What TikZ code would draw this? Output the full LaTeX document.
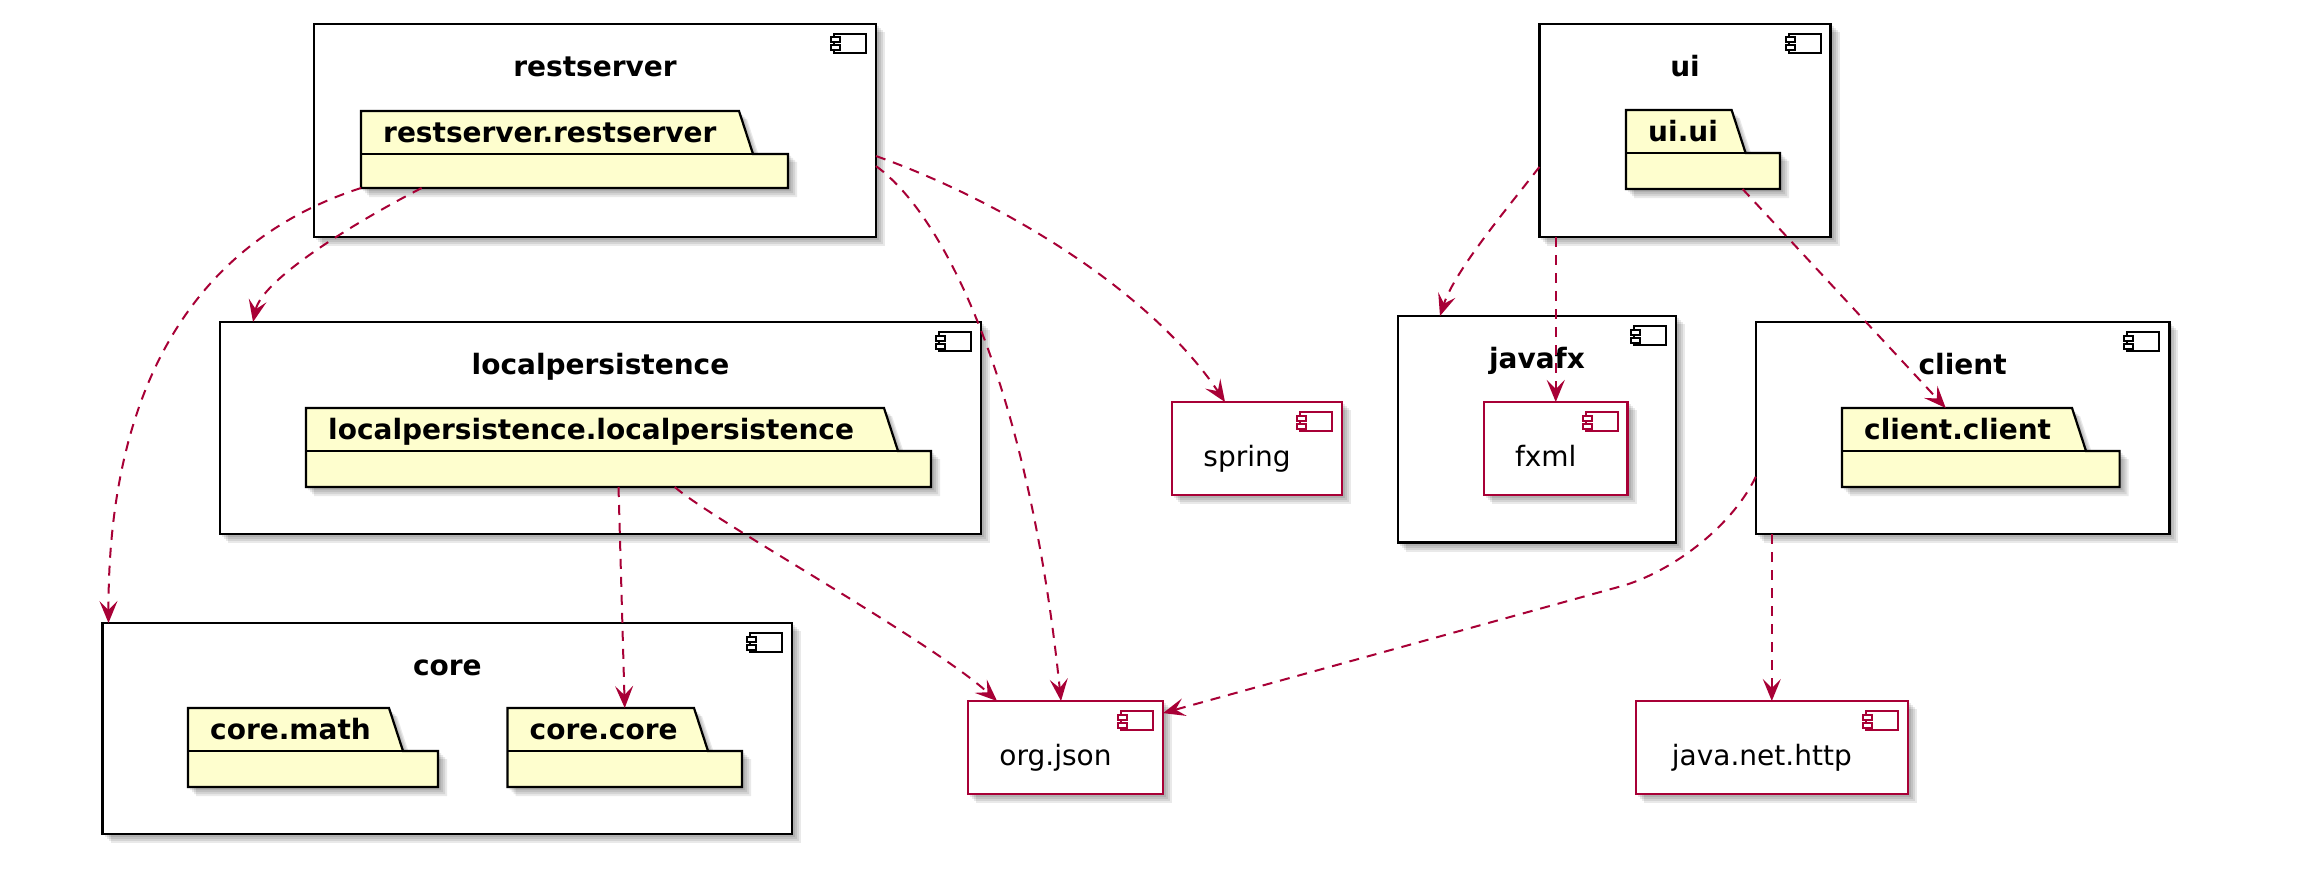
\documentclass[tikz,border=0pt]{standalone}
\usepackage{fontspec}
\setmainfont{DejaVu Sans}
\usetikzlibrary{arrows.meta,calc,fit}
\definecolor{arr}{HTML}{A80036}
\definecolor{pkgfill}{HTML}{FEFECE}
\tikzset{
  contframe/.style={draw=black, fill=white, line width=2.5pt, inner sep=0pt, outer sep=0pt},
  leafframe/.style={draw=arr, fill=white, line width=2.2pt, inner sep=0pt, outer sep=0pt},
  titletext/.style={font=\fontsize{28}{34}\selectfont\bfseries, inner sep=0pt, anchor=base},
  leaftext/.style={font=\fontsize{28}{34}\selectfont, inner sep=0pt, anchor=base},
  pkgline/.style={draw=black, line width=2.2pt, fill=pkgfill, line join=miter},
  dep/.style={draw=arr, line width=2pt, dash pattern=on 10pt off 8pt, -{Stealth[length=22pt,width=18pt,inset=9pt]}},
  shad/.style={fill=black, opacity=0.085},
}
% name, x1, y1, x2, y2, frame style, icon colour
\newcommand\compbox[7]{%
  \foreach \g in {0,2,4,6,8}{\fill[shad] (#2+\g,#3+\g) rectangle (#4+\g+1,#5+\g+1);}
  \node[#6, fit={(#2,#3)(#4,#5)}] (#1) {};
  \draw[draw=#7, line width=2pt, fill=white] (#4-42,#3+10) rectangle (#4-10,#3+29);
  \draw[draw=#7, line width=2pt, fill=white] (#4-45,#3+13.5) rectangle (#4-36,#3+18.5);
  \draw[draw=#7, line width=2pt, fill=white] (#4-45,#3+21.5) rectangle (#4-36,#3+26.5);
}
% name, left, tab top, tab right, body right, bottom, text
\newcommand\pkgbox[7]{%
  \foreach \g in {0,2,4,6,8}{\fill[shad] (#2+\g,#3+\g) -- (#4+\g,#3+\g) -- (#4+14+\g,#3+43+\g) -- (#5+\g+1,#3+43+\g) -- (#5+\g+1,#6+\g+1) -- (#2+\g,#6+\g+1) -- cycle;}
  \draw[pkgline] (#2,#3) -- (#4,#3) -- (#4+14,#3+43) -- (#5,#3+43) -- (#5,#6) -- (#2,#6) -- cycle;
  \draw[line width=2.2pt] (#2,#3+43) -- (#4+14,#3+43);
  \node[titletext, anchor=base west] (#1-t) at (#2+22,#3+31.5) {#7};
  \node[fit={(#2,#3)(#5,#6)}, inner sep=0pt, outer sep=0pt] (#1) {};
}
\begin{document}
\begin{tikzpicture}[x=1pt,y=-1pt]
\useasboundingbox[fill=white] (0,0) rectangle (2300,888);

% containers
\compbox{restserver}{314}{24}{876}{237}{contframe}{black}
\node[titletext] (restserver-t) at ($(restserver.north)+(0,52.5)$) {restserver};
\pkgbox{rspkg}{361}{111}{739}{788}{188}{restserver.restserver}

\compbox{lp}{220}{322}{981}{534}{contframe}{black}
\node[titletext] (lp-t) at ($(lp.north)+(0,52.5)$) {localpersistence};
\pkgbox{lppkg}{306}{408}{884}{931}{487}{localpersistence.localpersistence}

\compbox{core}{102.7}{623}{792}{834}{contframe}{black}
\node[titletext] (core-t) at ($(core.north)+(0,52.5)$) {core};
\pkgbox{cmpkg}{188}{708}{389}{438}{787}{core.math}
\pkgbox{ccpkg}{507.5}{708}{694}{742}{787}{core.core}

\compbox{ui}{1539.4}{24}{1830.6}{237}{contframe}{black}
\node[titletext] (ui-t) at ($(ui.north)+(0,52.5)$) {ui};
\pkgbox{uipkg}{1626}{110}{1731.6}{1780}{189}{ui.ui}

\compbox{javafx}{1398}{316}{1676}{542.7}{contframe}{black}
\node[titletext] (javafx-t) at ($(javafx.north)+(0,52.5)$) {javafx};
\compbox{fxml}{1484}{402}{1627.5}{495}{leafframe}{arr}
\node[leaftext] (fxml-t) at ($(fxml.north)+(-10,64.5)$) {fxml};

\compbox{client}{1755.8}{322}{2169.4}{534}{contframe}{black}
\node[titletext] (client-t) at ($(client.north)+(0,52.5)$) {client};
\pkgbox{clpkg}{1842}{408}{2072}{2119.6}{487}{client.client}

% leaf components
\compbox{spring}{1172}{402}{1342}{495}{leafframe}{arr}
\node[leaftext] (spring-t) at ($(spring.north)+(-10,64.5)$) {spring};
\compbox{orgjson}{968}{701}{1163}{794}{leafframe}{arr}
\node[leaftext] (orgjson-t) at ($(orgjson.north)+(-10,64.5)$) {org.json};
\compbox{jnh}{1636}{701}{1907.6}{794}{leafframe}{arr}
\node[leaftext] (jnh-t) at ($(jnh.north)+(-10,64.5)$) {java.net.http};

% dependencies
\draw[dep] (rspkg.south west) .. controls (185,245) and (108,400) .. ($(core.north west)!0.0084!(core.north east)$);
\draw[dep] ($(rspkg.south west)!0.142!(rspkg.south east)$) .. controls (350,225) and (262,280) .. ($(lp.north west)!0.0434!(lp.north east)$);
\draw[dep] ($(restserver.north east)!0.667!(restserver.south east)$) .. controls (950,220) and (1030,400) .. ($(orgjson.north west)!0.477!(orgjson.north east)$);
\draw[dep] ($(restserver.north east)!0.62!(restserver.south east)$) .. controls (1000,200) and (1150,290) .. ($(spring.north west)!0.312!(spring.north east)$);
\draw[dep] ($(ui.north west)!0.671!(ui.south west)$) .. controls (1510,205) and (1455,270) .. ($(javafx.north west)!0.151!(javafx.north east)$);
\draw[dep] (ui.south -| fxml.north) -- (fxml.north);
\draw[dep] ($(uipkg.south west)!0.757!(uipkg.south east)$) -- ($(clpkg.north west)!0.3736!(clpkg.north east)$);
\draw[dep] (lppkg.south) -- (ccpkg.north);
\draw[dep] ($(lppkg.south west)!0.59!(lppkg.south east)$) .. controls (712,520) and (930,640) .. ($(orgjson.north west)!0.149!(orgjson.north east)$);
\coordinate (clbend) at (1622,586);
\draw[dep] ($(client.north west)!0.73!(client.south west)$) .. controls (1730,530) and (1668,573) .. (clbend) -- ($(orgjson.north east)!0.13!(orgjson.south east)$);
\draw[dep] (client.south -| jnh.north) -- (jnh.north);
\end{tikzpicture}
\end{document}
